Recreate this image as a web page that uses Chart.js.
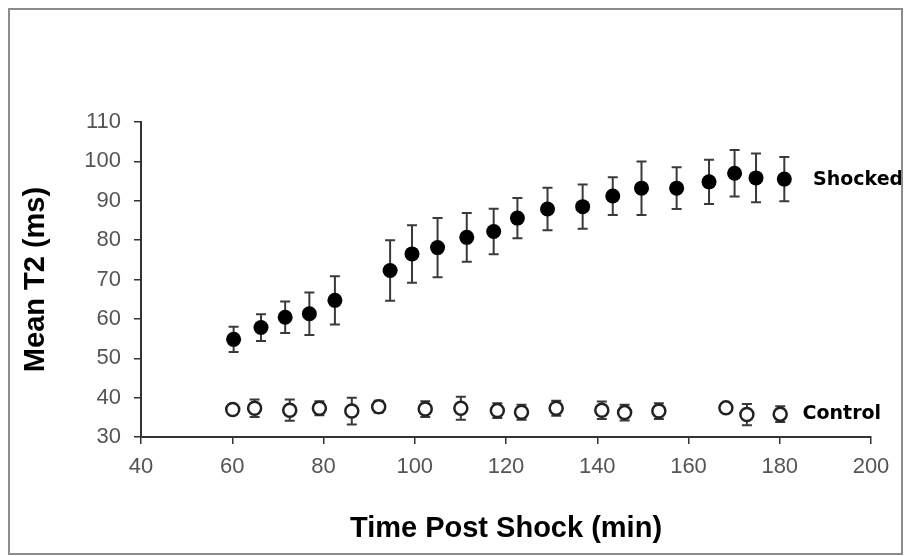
<!DOCTYPE html>
<html>
<head>
<meta charset="utf-8">
<title>Mean T2 after shock</title>
<script src="https://cdn.jsdelivr.net/npm/chart.js@4.4.1/dist/chart.umd.min.js"></script>
<style>
  html, body { margin: 0; padding: 0; background: #ffffff; }
  #wrap { position: relative; width: 908px; height: 556px; }
</style>
</head>
<body>
<div id="wrap"><canvas id="chart" width="908" height="556"></canvas></div>
<script>
// Shocked group: time after shock (min), mean T2 (ms), error (ms)
const shockedTime = [60.3, 66.3, 71.6, 76.9, 82.5, 94.6, 99.4, 105.0, 111.4, 117.3, 122.5, 129.1, 136.8, 143.4, 149.7, 157.4, 164.5, 170.1, 174.8, 181.0];
const shockedMean = [54.8, 57.8, 60.4, 61.3, 64.7, 72.3, 76.5, 78.1, 80.7, 82.2, 85.6, 87.9, 88.5, 91.2, 93.2, 93.2, 94.8, 97.0, 95.8, 95.5];
const shockedErr  = [3.2, 3.4, 4.0, 5.4, 6.1, 7.7, 7.3, 7.5, 6.2, 5.8, 5.1, 5.4, 5.6, 4.8, 6.8, 5.3, 5.6, 5.9, 6.2, 5.6];

// Control group
const controlTime = [60.1, 64.9, 72.6, 79.1, 86.2, 92.1, 102.3, 110.1, 118.1, 123.4, 131.0, 141.0, 146.0, 153.5, 168.2, 172.8, 180.1];
const controlMean = [37.0, 37.3, 36.8, 37.3, 36.6, 37.7, 37.1, 37.3, 36.7, 36.3, 37.3, 36.8, 36.2, 36.6, 37.4, 35.7, 35.8];
const controlErr  = [1.2, 2.2, 2.7, 1.8, 3.4, 1.5, 2.0, 2.9, 1.9, 1.9, 1.9, 2.2, 2.0, 2.0, 1.2, 2.7, 2.0];

// Series names, written beside the last point of each series
const seriesNames = ['Shocked', 'Control'];
// Where each name sits, in data units (time, T2)
const nameTime = [187.3, 185.0];
const nameT2   = [95.2, 35.9];

// Axis ranges and titles
const xMin = 40, xMax = 200, xStep = 20;
const yMin = 30, yMax = 110, yStep = 10;
const xTitle = 'Time Post Shock (min)';
const yTitle = 'Mean T2 (ms)';

function toPoints(xs, ys, es) {
  return xs.map((x, i) => ({ x: x, y: ys[i], err: es[i] }));
}

// Vertical error bars with caps, drawn under the markers
const errorBars = {
  id: 'errorBars',
  beforeDatasetsDraw(chart) {
    const { ctx, scales: { x, y } } = chart;
    ctx.save();
    ctx.strokeStyle = '#3a3a3a';
    ctx.lineWidth = 2;
    chart.data.datasets.forEach((ds) => {
      ds.data.forEach((p) => {
        const px = x.getPixelForValue(p.x);
        const top = y.getPixelForValue(p.y + p.err);
        const bot = y.getPixelForValue(p.y - p.err);
        const cap = 5;
        ctx.beginPath();
        ctx.moveTo(px, top); ctx.lineTo(px, bot);
        ctx.moveTo(px - cap, top); ctx.lineTo(px + cap, top);
        ctx.moveTo(px - cap, bot); ctx.lineTo(px + cap, bot);
        ctx.stroke();
      });
    });
    ctx.restore();
  }
};

// Series names and the outer frame
const decorations = {
  id: 'decorations',
  afterDraw(chart) {
    const { ctx, scales: { x, y } } = chart;
    ctx.save();
    ctx.fillStyle = '#000000';
    ctx.font = 'bold 19px "DejaVu Sans", Verdana, sans-serif';
    ctx.textAlign = 'left';
    ctx.textBaseline = 'middle';
    seriesNames.forEach((name, i) => {
      ctx.fillText(name, x.getPixelForValue(nameTime[i]), y.getPixelForValue(nameT2[i]));
    });
    ctx.strokeStyle = '#8c8c8c';
    ctx.lineWidth = 2;
    ctx.strokeRect(9, 9, 893, 545);
    ctx.restore();
  }
};

const axisColor = '#333333';
const tickFont = { family: '"Liberation Sans", Arial, sans-serif', size: 22 };
const titleFont = { family: '"Liberation Sans", Arial, sans-serif', size: 29, weight: 'bold' };

new Chart(document.getElementById('chart'), {
  type: 'scatter',
  data: {
    datasets: [
      {
        label: seriesNames[0],
        data: toPoints(shockedTime, shockedMean, shockedErr),
        pointStyle: 'circle',
        pointRadius: 7.5,
        pointBackgroundColor: '#000000',
        pointBorderColor: '#000000',
        pointBorderWidth: 0,
        showLine: false
      },
      {
        label: seriesNames[1],
        data: toPoints(controlTime, controlMean, controlErr),
        pointStyle: 'circle',
        pointRadius: 6.5,
        pointBackgroundColor: '#ffffff',
        pointBorderColor: '#222222',
        pointBorderWidth: 2.5,
        showLine: false
      }
    ]
  },
  options: {
    responsive: false,
    animation: false,
    events: [],
    layout: { padding: { top: 122, right: 37, bottom: 0, left: 0 } },
    plugins: {
      legend: { display: false },
      tooltip: { enabled: false },
      title: { display: false }
    },
    scales: {
      x: {
        type: 'linear',
        min: xMin, max: xMax,
        afterFit(scale) { scale.height = 119; },
        ticks: {
          stepSize: xStep,
          color: '#555555',
          font: tickFont,
          padding: 10,
          maxRotation: 0
        },
        grid: {
          drawOnChartArea: false,
          drawTicks: true,
          tickLength: 7,
          color: axisColor,
          lineWidth: 1.5
        },
        border: { display: true, color: axisColor, width: 2 },
        title: {
          display: true,
          text: xTitle,
          color: '#000000',
          font: titleFont,
          padding: { top: 0, bottom: 10 }
        }
      },
      y: {
        type: 'linear',
        min: yMin, max: yMax,
        afterFit(scale) { scale.width = 141; },
        ticks: {
          stepSize: yStep,
          color: '#555555',
          font: tickFont,
          padding: 13
        },
        grid: {
          drawOnChartArea: false,
          drawTicks: true,
          tickLength: 7,
          color: axisColor,
          lineWidth: 1.5
        },
        border: { display: true, color: axisColor, width: 2 },
        title: {
          display: true,
          text: yTitle,
          color: '#000000',
          font: titleFont,
          padding: { top: 19, bottom: 0 }
        }
      }
    }
  },
  plugins: [errorBars, decorations]
});
</script>
</body>
</html>
